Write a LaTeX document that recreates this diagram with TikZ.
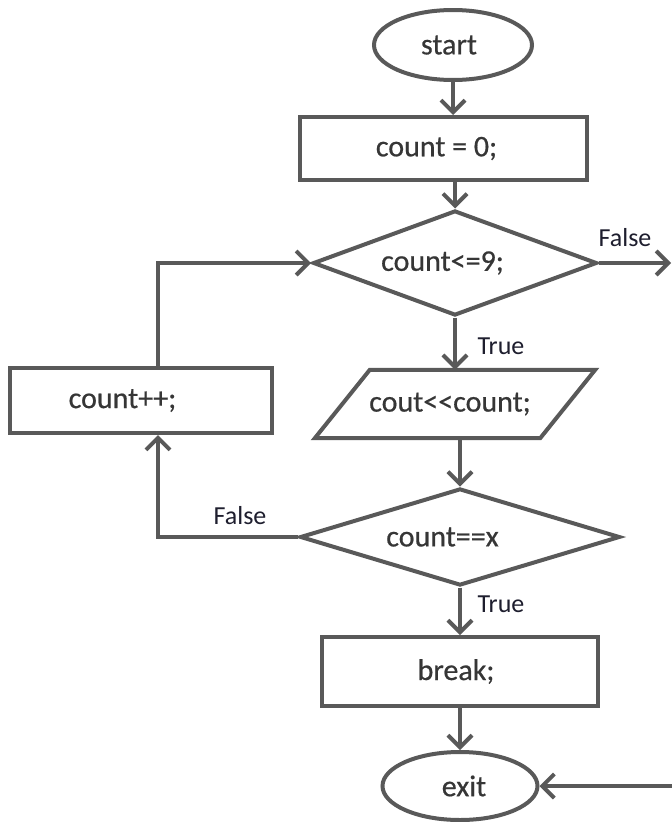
\documentclass[tikz,border=0pt]{standalone}
\usepackage{fontspec}
\setmainfont{Carlito}[Ligatures=TeXOff]
\newfontfamily\boxfont{Carlito}[Ligatures=TeXOff, FakeBold=0.6]
\usetikzlibrary{shapes.geometric,arrows.meta}
\definecolor{linec}{HTML}{595959}
\definecolor{textc}{HTML}{363636}
\definecolor{labc}{HTML}{1E1E2E}
\tikzset{
  box/.style={draw=linec, line width=4pt, rectangle, inner sep=0pt, text=textc, font=\boxfont\fontsize{30}{32}\selectfont},
  term/.style={draw=linec, line width=4pt, ellipse, inner sep=0pt, text=textc, font=\boxfont\fontsize{30}{32}\selectfont},
  decide/.style={draw=linec, line width=4pt, diamond, inner sep=0pt, text=textc, font=\boxfont\fontsize{30}{32}\selectfont},
  iobox/.style={rectangle, inner sep=0pt, text=textc, font=\boxfont\fontsize{30}{32}\selectfont},
  flow/.style={draw=linec, line width=4pt, -{Straight Barb[length=12pt, width=24pt, line width=4pt]}},
  lab/.style={text=labc, font=\fontsize{26}{28}\selectfont, inner sep=0pt},
}
\begin{document}
\begin{tikzpicture}[x=1pt,y=-1pt]
\useasboundingbox (0,0) rectangle (672,822);
\node[term, minimum width=158, minimum height=70] (start) at (453,45) {start\kern8pt};
\node[box, minimum width=287, minimum height=63] (c0) at (443.5,148.5) {count = 0;\kern14pt};
\node[decide, minimum width=284, minimum height=105, aspect=2.7] (d1) at (455,263) {count<=9;\kern25pt};
\node[iobox, minimum width=225, minimum height=68] (out) at (455,404) {cout<<count;\kern10pt};
\draw[linec, line width=4pt, line join=miter] ([xshift=27.5pt]out.north west) -- ([xshift=27.5pt]out.north east) -- ([xshift=-27.5pt]out.south east) -- ([xshift=-27.5pt]out.south west) -- cycle;
\node[box, minimum width=262, minimum height=65] (inc) at (141,400.5) {count++;\kern37pt};
\node[decide, minimum width=320, minimum height=97, aspect=3.3] (d2) at (460,537) {count==x\kern35pt};
\node[box, minimum width=276, minimum height=69] (brk) at (460,671.5) {break;\kern8pt};
\node[term, minimum width=155, minimum height=68] (exit) at (460,786) {\kern8pt exit};
\coordinate (fout) at (671,263);
\coordinate (fin) at (672,786);

\draw[flow] (start.south) -- (start.south |- c0.north);
\draw[flow] (d1.north |- c0.south) -- (d1.north);
\draw[flow] (d1.east) -- (fout);
\draw[flow] (d1.south) -- (d1.south |- out.north);
\draw[flow] (d2.north |- out.south) -- (d2.north);
\draw[flow] (d2.west) -| ([xshift=17pt]inc.south);
\draw[flow] ([xshift=17pt]inc.north) |- (d1.west);
\draw[flow] (d2.south) -- (d2.south |- brk.north);
\draw[flow] (brk.south) -- (brk.south |- exit.north);
\draw[flow] (fin) -- (exit.east);

\node[lab] (lf1) at (625,238) {False};
\node[lab] (lt1) at (501,346) {True};
\node[lab] (lf2) at (240,516) {False};
\node[lab] (lt2) at (501,604) {True};
\end{tikzpicture}
\end{document}
